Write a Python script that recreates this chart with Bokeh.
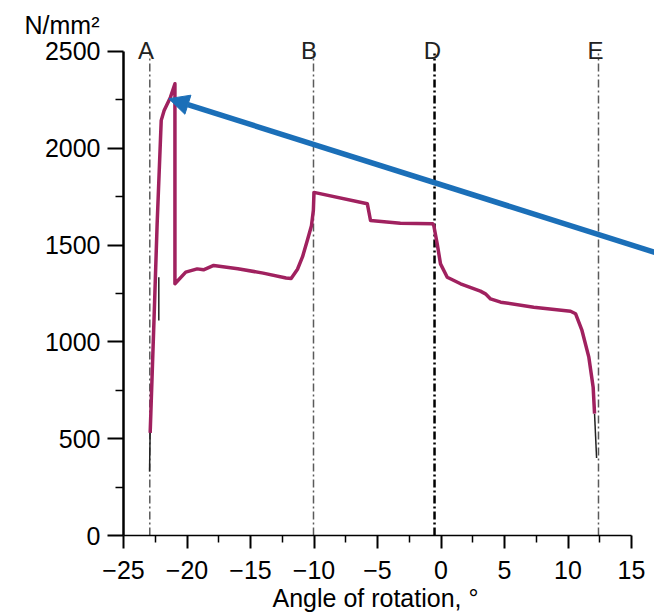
from bokeh.plotting import figure
from bokeh.models import (Range1d, FixedTicker, Label, Arrow, NormalHead, Title)
from bokeh.embed import file_html
from bokeh.resources import INLINE

# ---- data ----
x_ticks = [-25, -20, -15, -10, -5, 0, 5, 10, 15]
x_tick_labels = ["−25", "−20", "−15", "−10", "−5", "0", "5", "10", "15"]
x_minor = [-22.5, -17.5, -12.5, -7.5, -2.5, 2.5, 7.5, 12.5]
y_ticks = [0, 500, 1000, 1500, 2000, 2500]
y_minor = [250, 750, 1250, 1750, 2250]

stress_x = [-22.9, -22.6, -22.35, -22.03, -21.8, -21.3, -20.95, -20.95, -20.1, -19.2,
            -18.7, -17.9, -16.0, -14.0, -12.2, -11.8, -11.3, -10.9, -10.5, -10.2,
            -10.05, -10.0, -5.8, -5.55, -3.2, -0.65, -0.57, -0.3, -0.04, 0.49,
            1.54, 3.1, 3.5, 3.9, 4.7, 7.3, 10.2, 10.6, 11.1, 11.64, 11.98, 12.09]
stress_y = [530, 1110, 1612, 2144, 2195, 2264, 2333, 1300, 1360, 1377,
            1372, 1395, 1378, 1355, 1330, 1327, 1375, 1440, 1530, 1600,
            1680, 1772, 1713, 1627, 1613, 1610, 1601, 1507, 1403, 1334,
            1300, 1262, 1248, 1222, 1205, 1179, 1158, 1145, 1059, 921, 766, 629]

raw_x = [[-22.95, -22.9], [-22.22, -22.22], [12.09, 12.25]]
raw_y = [[330, 540], [1110, 1334], [629, 400]]

marker_names = ["A", "B", "D", "E"]
marker_x = [-22.93, -10.04, -0.51, 12.40]
marker_label_x = [-23.23, -10.39, -0.67, 12.17]

arrow_from = (17.5, 1449)
arrow_to = (-21.43, 2256)

FONT = "Liberation Sans"
MAGENTA = "#A0215F"
BLUE = "#1B6FB8"

p = figure(width=654, height=616, output_backend="svg", toolbar_location=None,
           title=None, x_range=Range1d(-25, 16.81), y_range=Range1d(0, 2603),
           min_border_left=123, min_border_right=0, min_border_top=31,
           min_border_bottom=81)
p.outline_line_color = None
p.xgrid.visible = False
p.ygrid.visible = False
p.background_fill_color = "white"
p.border_fill_color = "white"

# axes
xa = p.xaxis[0]
xa.ticker = FixedTicker(ticks=x_ticks, minor_ticks=x_minor)
xa.major_label_overrides = {t: l for t, l in zip(x_ticks, x_tick_labels)}
xa.bounds = (-25, 15)
xa.axis_line_width = 1.5
xa.axis_line_color = "black"
xa.major_tick_out = 13
xa.major_tick_in = 0
xa.minor_tick_out = 7
xa.minor_tick_in = 0
xa.major_tick_line_width = 2
xa.minor_tick_line_width = 1.5
xa.major_tick_line_color = "black"
xa.minor_tick_line_color = "black"
xa.major_label_text_font = FONT
xa.major_label_text_font_size = "25px"
xa.major_label_text_color = "black"
xa.major_label_standoff = 12

ya = p.yaxis[0]
ya.ticker = FixedTicker(ticks=y_ticks, minor_ticks=y_minor)
ya.bounds = (0, 2500)
ya.axis_line_width = 2.5
ya.axis_line_color = "black"
ya.major_tick_out = 16
ya.major_tick_in = 0
ya.minor_tick_out = 8
ya.minor_tick_in = 0
ya.major_tick_line_width = 2
ya.minor_tick_line_width = 1.5
ya.major_tick_line_color = "black"
ya.minor_tick_line_color = "black"
ya.major_label_text_font = FONT
ya.major_label_text_font_size = "25px"
ya.major_label_text_color = "black"
ya.major_label_standoff = 7

# unit label above the y axis
p.add_layout(Title(text="N/mm²", align="left", offset=-99, standoff=-15,
                   text_line_height=1.4,
                   text_font=FONT, text_font_size="25px",
                   text_font_style="normal", text_color="black"), "above")

# x-axis title, centred under the -25..15 axis span
p.add_layout(Title(text="Angle of rotation, °", align="left", offset=149,
                   standoff=5, vertical_align="top",
                   text_font=FONT, text_font_size="25px",
                   text_font_style="normal", text_color="black"), "below")

# vertical dash-dot marker lines
for name, mx, lx in zip(marker_names, marker_x, marker_label_x):
    if name == "D":
        p.segment(x0=[mx], y0=[0], x1=[mx], y1=[2490], line_color="black",
                  line_width=2.5, line_dash="8 3 2 3")
    else:
        p.segment(x0=[mx], y0=[0], x1=[mx], y1=[2490], line_color="#5a5a5a",
                  line_width=1.5, line_dash="8 3 2 3")
    p.add_layout(Label(x=lx, y=2505, text=name, text_font=FONT,
                       text_font_size="24px", text_color="#222222",
                       text_align="center", text_baseline="alphabetic"))

# raw (black) trace pieces and main curve
p.multi_line(xs=raw_x, ys=raw_y, line_color="#222222", line_width=1.5)
p.line(stress_x, stress_y, line_color=MAGENTA, line_width=3.5, line_join="round")

# arrow
p.add_layout(Arrow(end=NormalHead(size=20, fill_color=BLUE, line_color=BLUE),
                   x_start=arrow_from[0], y_start=arrow_from[1],
                   x_end=arrow_to[0], y_end=arrow_to[1],
                   line_color=BLUE, line_width=5.5))

open("out.html", "w").write(file_html(p, INLINE))
